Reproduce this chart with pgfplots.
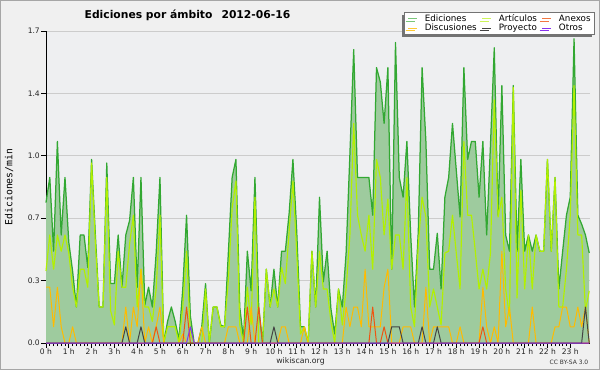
\documentclass[border=0pt]{standalone}
\usepackage{pgfplots}
\pgfplotsset{compat=1.18}
\usepackage{pgfplotstable}
\usepackage{fontspec}
\setmainfont{DejaVu Sans}
\newfontfamily\monofont{DejaVu Sans Mono}
\usetikzlibrary{shadows}
\definecolor{outerbg}{RGB}{240,240,240}
\definecolor{plotbg}{RGB}{238,239,241}
\definecolor{edline}{RGB}{50,168,50}
\definecolor{edfill}{RGB}{158,203,158}
\definecolor{artline}{RGB}{178,240,0}
\definecolor{discline}{RGB}{255,187,0}
\definecolor{anexline}{RGB}{238,85,17}
\definecolor{proyline}{RGB}{68,68,68}
\definecolor{otrosline}{RGB}{136,51,238}
\pgfplotstableread{
k E A D X P O
0 0.78 0.40 0.31 0 0 0
1 0.92 0.60 0.31 0 0 0
2 0.51 0.41 0.09 0 0 0
3 1.12 0.60 0.31 0 0 0
4 0.60 0.51 0.09 0 0 0
5 0.92 0.60 0 0 0 0
6 0.56 0.50 0 0 0 0
7 0.40 0.31 0.09 0 0 0
8 0.20 0.20 0 0 0 0
9 0.60 0.41 0 0 0 0
10 0.60 0.41 0 0 0 0
11 0.42 0.31 0 0 0 0
12 1.02 1.00 0 0 0 0
13 0.60 0.55 0 0 0 0
14 0.20 0.20 0 0 0 0
15 0.20 0.20 0 0 0 0
16 1.00 0.92 0 0 0 0
17 0.33 0.18 0 0 0 0
18 0.33 0.10 0 0 0 0
19 0.60 0.51 0 0 0 0
20 0.31 0.31 0 0 0 0
21 0.60 0.31 0.20 0 0.09 0
22 0.68 0.55 0 0 0 0
23 0.92 0.71 0.20 0 0 0
24 0.31 0.20 0.09 0 0 0
25 0.92 0.41 0.41 0 0.09 0
26 0.21 0.20 0 0 0 0
27 0.31 0.20 0.09 0 0 0
28 0.20 0.12 0 0 0 0
29 0.50 0.30 0.09 0.09 0 0
30 0.92 0.71 0.20 0 0 0
31 0 0 0 0 0 0
32 0.12 0.09 0 0 0 0
33 0.20 0.09 0 0 0 0
34 0.12 0.09 0 0 0 0
35 0.02 0 0 0 0 0
36 0.30 0.20 0.05 0 0 0
37 0.71 0.51 0 0.20 0 0
38 0.15 0.05 0 0 0 0.09
39 0 0 0 0 0 0
40 0 0 0 0 0 0
41 0.09 0 0.09 0 0 0
42 0.33 0.30 0 0 0 0
43 0 0 0 0 0 0
44 0.20 0.20 0 0 0 0
45 0.20 0.20 0 0 0 0
46 0.10 0.09 0 0 0 0
47 0.09 0.09 0 0 0 0
48 0.50 0.35 0.09 0 0 0
49 0.92 0.75 0.09 0 0 0
50 1.02 0.90 0.09 0 0 0
51 0.20 0.10 0 0 0 0
52 0.02 0 0 0 0 0
53 0.51 0.31 0 0.20 0 0
54 0.29 0.10 0.20 0 0 0
55 0.92 0.81 0 0 0 0
56 0.20 0 0 0.20 0 0
57 0 0 0 0 0 0
58 0.41 0.41 0 0 0 0
59 0.20 0.20 0 0 0 0
60 0.41 0.30 0 0 0.09 0
61 0.20 0.20 0 0 0 0
62 0.51 0.42 0.09 0 0 0
63 0.51 0.33 0.09 0 0 0
64 0.72 0.62 0 0 0 0
65 1.02 0.90 0 0 0 0
66 0.62 0.50 0 0 0 0
67 0.09 0.05 0 0 0 0
68 0.09 0.09 0.09 0 0 0
69 0 0 0 0 0 0
70 0.51 0.51 0 0 0 0
71 0.20 0.20 0 0 0 0
72 0.81 0.51 0 0 0 0
73 0.34 0.30 0 0 0 0
74 0.51 0.30 0 0 0 0
75 0.19 0.12 0 0 0 0
76 0.05 0 0 0 0 0
77 0.30 0.30 0 0 0 0
78 0.20 0.10 0 0 0 0
79 0.50 0.30 0.20 0 0 0
80 1.05 0.60 0.09 0 0 0
81 1.63 1.22 0.20 0 0 0
82 0.92 0.71 0.20 0 0 0
83 0.92 0.60 0.09 0 0 0
84 0.92 0.51 0.41 0 0 0
85 0.92 0.71 0.09 0 0 0
86 0.71 0.41 0.09 0.20 0 0
87 1.53 1.02 0.09 0 0 0
88 1.45 0.92 0.09 0 0 0
89 1.22 0.60 0.31 0.09 0 0
90 1.53 0.80 0.41 0 0 0
91 0.41 0.41 0 0 0.09 0
92 1.67 0.60 0 0 0.09 0
93 0.92 0.60 0 0 0.09 0
94 0.81 0.41 0.09 0 0 0
95 1.12 0.92 0.09 0 0 0
96 0.60 0.20 0.09 0 0 0
97 0.20 0.09 0 0 0 0
98 0.62 0.55 0 0 0 0
99 1.53 0.81 0 0 0.09 0
100 1.12 0.70 0.31 0 0 0
101 0.41 0.20 0 0 0 0
102 0.41 0.30 0.09 0 0 0
103 0.61 0.20 0.09 0 0.09 0
104 0.30 0.10 0.09 0 0 0
105 0.81 0.50 0.09 0 0 0
106 0.92 0.51 0.09 0 0 0
107 1.22 0.71 0 0 0 0
108 0.96 0.50 0 0 0 0
109 0.70 0.30 0.09 0 0 0
110 1.53 1.12 0 0 0 0
111 1.02 0.71 0 0 0 0
112 1.12 0.71 0 0 0 0
113 1.12 0.51 0 0 0 0
114 0.81 0.30 0 0 0 0
115 1.12 0.41 0.31 0.09 0 0
116 0.60 0.30 0.09 0 0 0
117 1.10 0.50 0 0 0 0
118 1.64 1.35 0.09 0 0 0
119 0.71 0.70 0 0 0 0
120 1.43 0.81 0.51 0 0 0
121 0.60 0.30 0.09 0 0 0
122 0.51 0.15 0.20 0 0 0
123 1.43 1.42 0 0 0 0
124 0.51 0.25 0 0 0 0
125 1.02 0.85 0 0 0 0
126 0.51 0.30 0 0 0 0
127 0.60 0.60 0 0 0 0
128 0.51 0.30 0.20 0 0 0
129 0.60 0.60 0 0 0 0
130 0.51 0.51 0 0 0 0
131 0.51 0.51 0 0 0 0
132 1.02 1.02 0 0 0 0
133 0.51 0.51 0 0 0 0
134 0.92 0.92 0.09 0 0 0
135 0.30 0.20 0.09 0 0 0
136 0.51 0.20 0.20 0 0 0
137 0.71 0.41 0.20 0 0 0
138 0.81 0.71 0.09 0 0 0
139 1.69 1.43 0.09 0 0 0
140 0.71 0.60 0.20 0 0 0
141 0.66 0.60 0.09 0 0 0
142 0.60 0.18 0.20 0 0.20 0
143 0.50 0.29 0 0 0 0
}\datatable
\begin{document}
\begin{tikzpicture}
\fill[outerbg] (-46bp,-27bp) rectangle (554bp,343bp);
\begin{axis}[
  at={(0,0)}, anchor=south west,
  scale only axis, width=544bp, height=312bp,
  xmin=0, xmax=143.2, ymin=0, ymax=1.73333,
  axis background/.style={fill=plotbg},
  axis x line*=bottom, axis y line*=left,
  axis line style={black, line width=0.8bp},
  tick align=outside,
  major tick length=4.5bp, minor tick length=3bp,
  tick style={black, line width=0.7bp},
  xtick={0,6,...,138},
  xticklabels={0 h,1 h,2 h,3 h,4 h,5 h,6 h,7 h,8 h,9 h,10 h,11 h,12 h,13 h,14 h,15 h,16 h,17 h,18 h,19 h,20 h,21 h,22 h,23 h},
  minor x tick num=5,
  ytick={0,0.34667,0.69333,1.04,1.38667,1.73333},
  yticklabels={0.0,0.3,0.7,1.0,1.4,1.7},
  minor y tick num=3,
  ymajorgrids,
  major grid style={draw=black!20, line width=0.8bp},
  /pgf/number format/assume math mode=true,
  ticklabel style={font=\fontsize{7.6}{8}\selectfont, text=black!85},
  xticklabel style={inner sep=1.5bp},
  yticklabel style={inner sep=1.5bp},
  legend image code/.code={\draw[#1] (0bp,0bp) -- (9bp,0bp);},
  legend columns=3,
  legend cell align=left,
  legend style={at={(axis description cs:0.658,1.0609)}, anchor=north west,
    font=\fontsize{8.8}{9}\selectfont, fill=white, draw=black!55, line width=0.8bp,
    inner xsep=3.5bp, inner ysep=1.5bp, row sep=0bp,
    drop shadow={shadow xshift=-2.5bp, shadow yshift=-2.5bp, fill=black!55, opacity=1},
    /tikz/every odd column/.append style={column sep=6.5bp},
    /tikz/every even column/.append style={column sep=4.5bp},
    nodes={inner sep=0.6bp}},
  clip=false,
]
\addplot[fill=edfill, draw=none, forget plot] table[x=k, y=E] {\datatable} \closedcycle;
\addplot[edline, line width=1.25bp, line join=round, forget plot] table[x=k, y=E] {\datatable};
\addplot[artline, line width=1.15bp, line join=round, forget plot] table[x=k, y=A] {\datatable};
\addplot[discline, line width=1bp, line join=round, forget plot] table[x=k, y=D] {\datatable};
\addplot[anexline, line width=1bp, line join=round, forget plot] table[x=k, y=X] {\datatable};
\addplot[proyline, line width=1bp, line join=round, forget plot] table[x=k, y=P] {\datatable};
\addplot[otrosline, line width=1bp, line join=round, forget plot] table[x=k, y=O] {\datatable};
\addlegendimage{edline!65, line width=0.8bp}
\addlegendentry{Ediciones}
\addlegendimage{artline!65, line width=0.8bp}
\addlegendentry{Artículos}
\addlegendimage{anexline!80, line width=0.8bp}
\addlegendentry{Anexos}
\addlegendimage{discline!80, line width=0.8bp}
\addlegendentry{Discusiones}
\addlegendimage{proyline, line width=0.8bp}
\addlegendentry{Proyecto}
\addlegendimage{otrosline, line width=0.8bp}
\addlegendentry{Otros}
\end{axis}
\node[font=\bfseries\fontsize{10.8}{11}\selectfont, anchor=center] at (141.5bp,328bp) {Ediciones por ámbito\hspace{9bp}2012-06-16};
\node[font=\monofont\fontsize{9.8}{10}\selectfont, rotate=90, anchor=center] at (-37bp,156bp) {Ediciones/min};
\node[font=\fontsize{7.8}{8}\selectfont, text=black!85, anchor=center] at (254.5bp,-18.7bp) {wikiscan.org};
\node[font=\fontsize{6}{7}\selectfont, text=black!80, anchor=center] at (523bp,-19.7bp) {CC BY-SA 3.0};
\draw[black!35, line width=1.5bp] (-45.25bp,-26.25bp) rectangle (553.25bp,342.25bp);
\pgfresetboundingbox
\useasboundingbox (-46bp,-27bp) rectangle (554bp,343bp);
\end{tikzpicture}
\end{document}
